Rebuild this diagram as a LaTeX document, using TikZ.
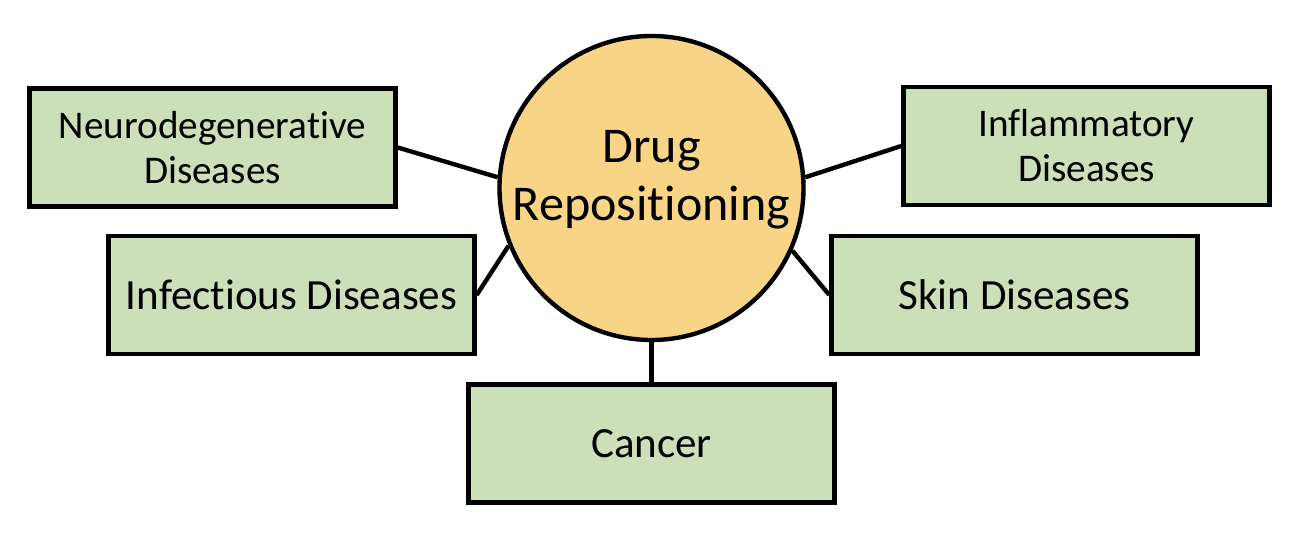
\documentclass[tikz,border=0pt]{standalone}
\usepackage{fontspec}
\setmainfont{Carlito}[Ligatures=NoCommon]
\definecolor{boxgreen}{RGB}{203,223,184}
\definecolor{hubgold}{RGB}{248,213,134}

\begin{document}
\begin{tikzpicture}[
    area/.style={rectangle, draw=black, line width=2.5pt, fill=boxgreen, minimum width=7.32cm, minimum height=2.36cm, align=center, inner sep=0pt},
    hub/.style={circle, draw=black, line width=2.5pt, fill=hubgold, minimum size=6.08cm, inner sep=0pt},
    link/.style={line width=2.5pt}
]
    \useasboundingbox (0,0) rectangle (26.04,10.8);
    \node[hub] (center) at (13.03,7.04) {};
    \node[align=center, font=\fontsize{28.5}{33}\selectfont] (title) at (13.03,7.21) {Drug\\Repositioning};

    \node[area, font=\fontsize{22.3}{25.6}\selectfont] (neuro) at (4.25,7.85) {Neurodegenerative\\Diseases};
    \node[area, font=\fontsize{24.5}{30}\selectfont] (infect) at (5.83,4.90) {Infectious Diseases};
    \node[area, font=\fontsize{24.5}{30}\selectfont] (cancer) at (13.03,1.93) {Cancer};
    \node[area, font=\fontsize{24.5}{30}\selectfont] (skin) at (20.29,4.90) {Skin Diseases};
    \node[area, font=\fontsize{22.3}{25.6}\selectfont] (inflam) at (21.73,7.88) {Inflammatory\\Diseases};

    \draw[link] (neuro.east) -- (center.176);
    \draw[link] (infect.east) -- (center.202);
    \draw[link] (center.south) -- (cancer.north);
    \draw[link] (skin.west) -- (center.-24);
    \draw[link] (inflam.west) -- (center.4);
\end{tikzpicture}
\end{document}
